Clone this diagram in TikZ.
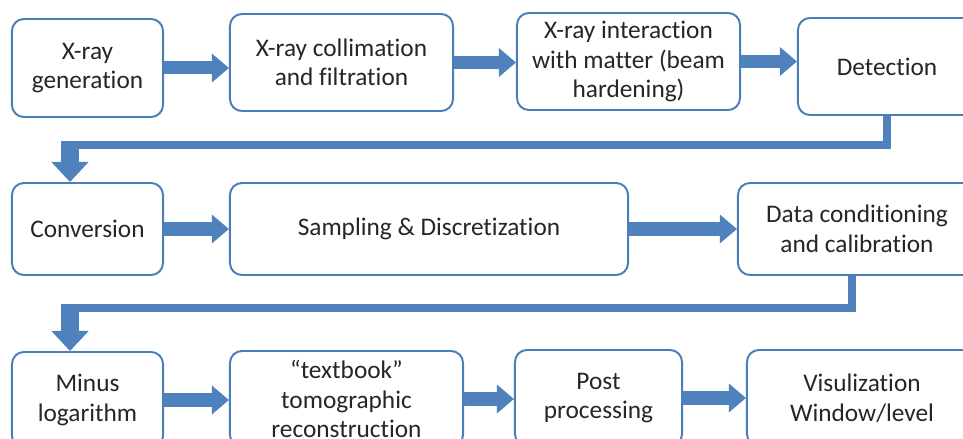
\documentclass[tikz,border=0pt]{standalone}
\usepackage{fontspec}
\setmainfont{Carlito}[Ligatures={TeX,NoCommon}]
\usetikzlibrary{arrows.meta,calc}
\definecolor{stageblue}{RGB}{74,126,187}
\definecolor{flowblue}{RGB}{79,129,189}

\begin{document}
\begin{tikzpicture}[x=0.025cm,y=-0.025cm,
    stage/.style={draw=stageblue,line width=1.4pt,rounded corners=0.3cm,fill=white,align=center,
        font=\fontsize{18}{21}\selectfont,text=black!85,inner sep=2pt},
    flow/.style={flowblue,line width=0.325cm,-{Triangle[width=0.7cm,length=0.43cm]}},
    elbow/.style={flowblue,line width=0.2cm},
    drop/.style={flowblue,line width=0.425cm,-{Triangle[width=0.9cm,length=0.5cm]}}]
  \useasboundingbox (0,0) rectangle (963,439);
  \clip (0,0) rectangle (963,439);

  \node[stage,minimum width=3.775cm,minimum height=2.45cm] (gen) at (87.5,68) {X-ray\\generation};
  \node[stage,minimum width=5.575cm,minimum height=2.425cm] (coll) at (341.5,62.5) {X-ray collimation\\and filtration};
  \node[stage,minimum width=5.575cm,minimum height=2.425cm] (inter) at (628.5,61.5) {X-ray interaction\\with matter (beam\\hardening)};
  \node[stage,minimum width=4.45cm,minimum height=2.425cm] (det) at (887,66.5) {Detection};

  \node[stage,minimum width=3.775cm,minimum height=2.3cm] (conv) at (87.5,229) {Conversion};
  \node[stage,minimum width=9.95cm,minimum height=2.3cm] (samp) at (429,229) {Sampling \& Discretization};
  \node[stage,minimum width=5.95cm,minimum height=2.3cm] (data) at (857,229) {Data conditioning\\and calibration};

  \node[stage,minimum width=3.775cm,minimum height=2.4cm] (minus) at (87.5,400) {Minus\\logarithm};
  \node[stage,minimum width=5.825cm,minimum height=2.4cm] (book) at (346.5,399) {“textbook”\\tomographic\\reconstruction};
  \node[stage,minimum width=4.175cm,minimum height=2.4cm] (post) at (598.5,398) {Post\\processing};
  \node[stage,minimum width=5.75cm,minimum height=2.4cm] (vis) at (862,398) {Visulization\\Window/level};

  \coordinate (turn1) at (70,145);
  \coordinate (turn2) at (70,308);

  \draw[flow] (gen) -- (gen -| coll.west);
  \draw[flow] (coll) -- (coll -| inter.west);
  \draw[flow] (inter) -- (inter -| det.west);
  \draw[elbow] (det.south) |- (turn1);
  \draw[drop] ($(turn1)+(0,-4)$) -- (conv.north -| turn1);

  \draw[flow] (conv) -- (conv -| samp.west);
  \draw[flow] (samp) -- (samp -| data.west);
  \draw[elbow] ($(data.south)+(-5,0)$) |- (turn2);
  \draw[drop] ($(turn2)+(0,-4)$) -- (minus.north -| turn2);

  \draw[flow] (minus) -- (minus -| book.west);
  \draw[flow] (book) -- (book -| post.west);
  \draw[flow] (post) -- (post -| vis.west);
\end{tikzpicture}
\end{document}
